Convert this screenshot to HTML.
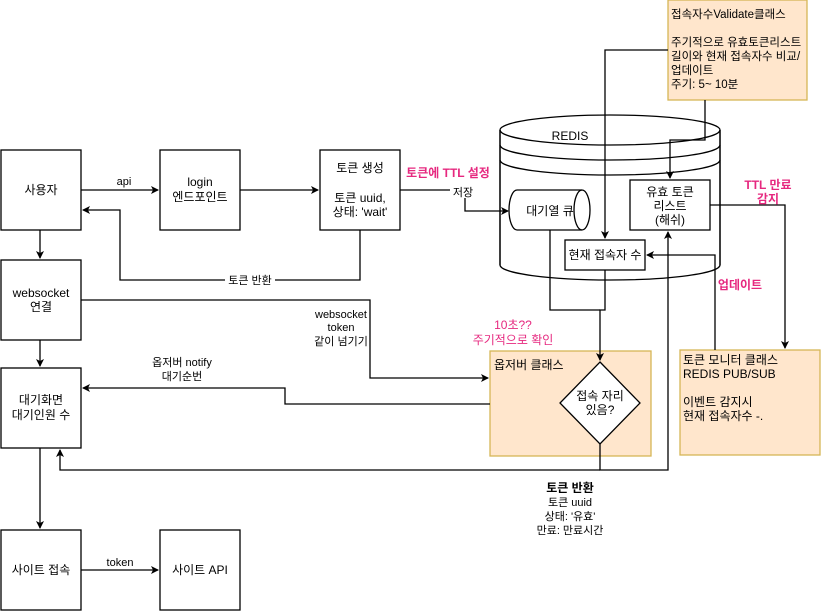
<!DOCTYPE html>
<html><head><meta charset="utf-8"><style>
body{margin:0;background:#fff;}
svg{display:block;font-family:"Liberation Sans","Noto Sans CJK KR",sans-serif;font-size:12px;}
.p{fill:#e6287f;font-weight:bold;}
.pn{fill:#e6287f;}
</style></head><body>
<svg width="821" height="611" viewBox="0 0 821 611">
<defs><marker id="a" markerWidth="8" markerHeight="8" refX="7" refY="4" orient="auto" markerUnits="userSpaceOnUse"><path d="M0,0 L8,4 L0,8 L2,4z" fill="#000"/></marker></defs>
<g fill="none" stroke="#000" stroke-width="1.3">
<path d="M500,130 A110,15 0 0 1 720,130 L720,265 A110,15 0 0 1 500,265 Z" fill="#fff"/>
<path d="M500,130 A110,15 0 0 0 720,130 M500,145 A110,15 0 0 0 720,145 M500,160 A110,15 0 0 0 720,160"/>
<line x1="500" y1="130" x2="500" y2="265"/><line x1="720" y1="130" x2="720" y2="265"/>
<path d="M517,190 L582,190 A8,20 0 0 1 582,230 L517,230 A8,20 0 0 1 517,190 Z" fill="#fff"/>
<path d="M582,190 A8,20 0 0 0 582,230"/>
<rect x="630" y="180" width="80" height="50" fill="#fff"/>
<rect x="565" y="240" width="80" height="30" fill="#fff"/>
<rect x="1" y="150" width="80" height="80" fill="#fff"/>
<rect x="160" y="150" width="80" height="80" fill="#fff"/>
<rect x="320" y="150" width="80" height="80" fill="#fff"/>
<rect x="1" y="260" width="80" height="80" fill="#fff"/>
<rect x="1" y="368" width="80" height="80" fill="#fff"/>
<rect x="1" y="530" width="80" height="80" fill="#fff"/>
<rect x="160" y="530" width="80" height="80" fill="#fff"/>
</g>
<g stroke="#d6b656" stroke-width="1.3" fill="#ffe6cc">
<rect x="668" y="0" width="139" height="100"/>
<rect x="490" y="351" width="161" height="105"/>
<rect x="680" y="350" width="140" height="105"/>
</g>
<path d="M600,362 L640,403 L600,444 L560,403 Z" fill="#fff" stroke="#000" stroke-width="1.3"/>
<g fill="none" stroke="#000" stroke-width="1.3">
<path d="M81,190 H158" marker-end="url(#a)"/>
<path d="M240,190 H318" marker-end="url(#a)"/>
<path d="M360,230 V280 H120 V210 H83" marker-end="url(#a)"/>
<path d="M400,190 H465 V211 H508" marker-end="url(#a)"/>
<path d="M40,230 V258" marker-end="url(#a)"/>
<path d="M40,340 V366" marker-end="url(#a)"/>
<path d="M40,448 V528" marker-end="url(#a)"/>
<path d="M81,300 H370 V378 H488" marker-end="url(#a)"/>
<path d="M490,404 H285 V388 H83" marker-end="url(#a)"/>
<path d="M81,570 H158" marker-end="url(#a)"/>
<path d="M668,50 H605 V238" marker-end="url(#a)"/>
<path d="M705,100 V140 H670 V178" marker-end="url(#a)"/>
<path d="M550,230 V310 H600"/>
<path d="M605,270 V310 H600 V360" marker-end="url(#a)"/>
<path d="M710,205 H785 V348" marker-end="url(#a)"/>
<path d="M715,350 V255 H647" marker-end="url(#a)"/>
<path d="M600,444 V470 H668 V232" marker-end="url(#a)"/>
<path d="M600,470 H60 V450" marker-end="url(#a)"/>
</g>
<rect x="225" y="272" width="50" height="14" fill="#fff"/>
<rect x="450" y="184" width="26" height="14" fill="#fff"/>
<g text-anchor="middle" fill="#000">
<text x="41" y="194">사용자</text>
<text x="200" y="186">login</text><text x="200" y="201">엔드포인트</text>
<text x="360" y="172">토큰 생성</text><text x="360" y="202">토큰 uuid,</text><text x="360" y="216">상태: 'wait'</text>
<text x="41" y="297">websocket</text><text x="41" y="311">연결</text>
<text x="41" y="404">대기화면</text><text x="41" y="419">대기인원 수</text>
<text x="41" y="574">사이트 접속</text>
<text x="200" y="574">사이트 API</text>
<text x="124" y="185" font-size="11">api</text>
<text x="120" y="566" font-size="11">token</text>
<text x="250" y="284" font-size="11">토큰 반환</text>
<text x="463" y="196" font-size="11">저장</text>
<text x="570" y="140">REDIS</text>
<text x="550" y="215">대기열 큐</text>
<text x="670" y="196">유효 토큰</text><text x="670" y="210">리스트</text><text x="670" y="224">(해쉬)</text>
<text x="605" y="259">현재 접속자 수</text>
<text x="600" y="400">접속 자리</text><text x="600" y="414">있음?</text>
<text x="182" y="366" font-size="11">옵저버 notify</text><text x="182" y="380" font-size="11">대기순번</text>
<text x="570" y="492" font-weight="bold">토큰 반환</text>
<text x="570" y="506" font-size="11">토큰 uuid</text>
<text x="570" y="520" font-size="11">상태:  '유효'</text>
<text x="570" y="534" font-size="11">만료: 만료시간</text>
<text class="p" x="448" y="177">토큰에 TTL 설정</text>
<text class="p" x="768" y="189">TTL 만료</text><text class="p" x="768" y="203">감지</text>
<text class="p" x="740" y="289">업데이트</text>
<text class="pn" x="513" y="329">10초??</text>
<text class="pn" x="513" y="344">주기적으로 확인</text>
</g>
<g text-anchor="middle" font-size="11">
<text x="341" y="318">websocket</text>
<text x="341" y="331">token</text><text x="341" y="345">같이 넘기기</text>
</g>
<g font-size="11.5">
<text x="671" y="18">접속자수Validate클래스</text>
<text x="671" y="46">주기적으로 유효토큰리스트</text>
<text x="671" y="60">길이와 현재 접속자수 비교/</text>
<text x="671" y="74">업데이트</text>
<text x="671" y="88">주기: 5~ 10분</text>
</g>
<g font-size="12">
<text x="494" y="369">옵저버 클래스</text>
<text x="683" y="364">토큰 모니터 클래스</text>
<text x="683" y="378">REDIS PUB/SUB</text>
<text x="683" y="406">이벤트 감지시</text>
<text x="683" y="420">현재 접속자수 -.</text>
</g>
</svg>
</body></html>
